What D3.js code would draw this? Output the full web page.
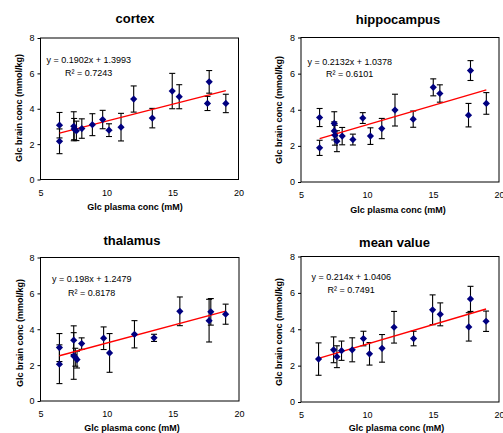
<!DOCTYPE html>
<html>
<head>
<meta charset="utf-8">
<script src="https://cdn.jsdelivr.net/npm/d3@7"></script>
<style>
  body { margin: 0; background: #fff; }
  svg { display: block; font-family: Arial, "Liberation Sans", sans-serif; }
</style>
</head>
<body>
<div id="vis"></div>
<script>
// Tick labels shared by all four panels
const xTicks = [5, 10, 15, 20];
const yTicks = [0, 2, 4, 6, 8];

// cortex
const cortexX   = [6.44, 6.44, 7.52, 7.55, 7.72, 8.13, 8.93, 9.71, 10.19, 11.1, 12.06, 13.47, 14.98, 15.51, 17.65, 17.78, 19.04];
const cortexY   = [3.07, 2.16, 3.01, 2.85, 2.75, 2.88, 3.1, 3.39, 2.79, 2.96, 4.55, 3.47, 5.0, 4.68, 4.3, 5.52, 4.3];
const cortexErr = [0.72, 0.7, 0.82, 0.6, 0.55, 0.55, 0.62, 0.52, 0.36, 0.78, 0.74, 0.55, 1.0, 0.68, 0.4, 0.64, 0.52];

// hippocampus
const hippoX   = [6.41, 6.41, 7.52, 7.52, 7.57, 7.72, 8.12, 8.93, 9.68, 10.26, 11.12, 12.12, 13.5, 15.02, 15.52, 17.69, 17.84, 19.04];
const hippoY   = [3.57, 1.89, 3.24, 2.83, 2.59, 2.26, 2.54, 2.35, 3.54, 2.54, 2.96, 3.98, 3.48, 5.24, 4.9, 3.7, 6.17, 4.35];
const hippoErr = [0.5, 0.42, 0.65, 0.5, 0.55, 0.58, 0.48, 0.3, 0.3, 0.46, 0.56, 0.88, 0.45, 0.47, 0.48, 0.65, 0.55, 0.6];

// thalamus
const thalX   = [6.43, 6.43, 7.51, 7.51, 7.63, 7.76, 8.11, 9.77, 10.22, 12.1, 13.58, 15.53, 17.74, 17.87, 18.99];
const thalY   = [2.98, 2.05, 3.39, 2.51, 2.44, 2.31, 3.2, 3.5, 2.68, 3.72, 3.52, 5.0, 4.48, 4.97, 4.84];
const thalErr = [0.78, 1.08, 0.8, 1.3, 0.5, 0.47, 0.32, 0.63, 1.08, 0.76, 0.2, 0.8, 1.19, 0.74, 0.56];

// mean value
const meanX   = [6.33, 7.47, 7.72, 8.07, 8.88, 9.73, 10.19, 11.14, 12.05, 13.53, 14.97, 15.55, 17.71, 17.84, 19.02];
const meanY   = [2.36, 2.87, 2.49, 2.82, 2.87, 3.49, 2.65, 2.95, 4.11, 3.49, 5.07, 4.82, 4.13, 5.67, 4.44];
const meanErr = [0.89, 0.71, 0.6, 0.53, 0.66, 0.4, 0.62, 0.76, 0.87, 0.4, 0.82, 0.63, 0.78, 0.69, 0.56];

// Excel trend line fits (slope, intercept, R²)
const titles     = ["cortex", "hippocampus", "thalamus", "mean value"];
const slopes     = [0.1902, 0.2132, 0.198, 0.214];
const intercepts = [1.3993, 1.0378, 1.2479, 1.0406];
const rSquared   = ["0.7243", "0.6101", "0.8178", "0.7491"];
const eqLabels   = ["y = 0.1902x + 1.3993", "y = 0.2132x + 1.0378", "y = 0.198x + 1.2479", "y = 0.214x + 1.0406"];

const xs   = [cortexX, hippoX, thalX, meanX];
const ys   = [cortexY, hippoY, thalY, meanY];
const errs = [cortexErr, hippoErr, thalErr, meanErr];

// plot frames (layout only)
const frames = [
  { x0: 40.5, x1: 238.5, y0: 38,    y1: 179.5, tx: 135,   ty: 18,    lx: 135,   ly: 207, yx: 18.5, yy: 108, ex: 46.5, ey: 60,  rx: 65,  ry: 73 },
  { x0: 301,  x1: 499,   y0: 37.5,  y1: 182,   tx: 398,   ty: 19.5,  lx: 398,   ly: 210, yx: 279,  yy: 110, ex: 307.5, ey: 62, rx: 326, ry: 74 },
  { x0: 40.5, x1: 239,   y0: 257.5, y1: 401,   tx: 132,   ty: 240,   lx: 132,   ly: 428, yx: 20,   yy: 333, ex: 52,  ey: 279, rx: 68,  ry: 293 },
  { x0: 301,  x1: 499,   y0: 256.5, y1: 402,   tx: 394.5, ty: 242.5, lx: 396.5, ly: 428, yx: 279,  yy: 332, ex: 311.5, ey: 277, rx: 327.5, ry: 290 }
];

const width = 503, height = 433;

const svg = d3.select("#vis")
  .append("svg")
  .attr("width", width)
  .attr("height", height);

svg.append("rect").attr("width", width).attr("height", height).attr("fill", "#fff");

frames.forEach((f, i) => {
  const pts = xs[i].map((x, j) => ({ x: x, y: ys[i][j], e: errs[i][j] }));

  const x = d3.scaleLinear().domain([5, 20]).range([f.x0, f.x1]);
  const y = d3.scaleLinear().domain([0, 8]).range([f.y1, f.y0]);

  const g = svg.append("g");

  // y axis
  g.append("g")
    .attr("transform", `translate(${f.x0},0)`)
    .call(d3.axisLeft(y).tickValues(yTicks).tickSize(3).tickPadding(3))
    .call(a => a.select(".domain").remove())
    .call(a => a.selectAll("text").attr("font-size", "9px").attr("fill", "#000").attr("font-family", "Arial, 'Liberation Sans', sans-serif"))
    .call(a => a.selectAll("line").attr("stroke", "#000"));

  // x axis
  g.append("g")
    .attr("transform", `translate(0,${f.y1})`)
    .call(d3.axisBottom(x).tickValues(xTicks).tickSize(0).tickPadding(10))
    .call(a => a.select(".domain").remove())
    .call(a => a.selectAll("text").attr("font-size", "9px").attr("fill", "#000").attr("font-family", "Arial, 'Liberation Sans', sans-serif"));

  // frame
  g.append("rect")
    .attr("x", f.x0).attr("y", f.y0)
    .attr("width", f.x1 - f.x0).attr("height", f.y1 - f.y0)
    .attr("fill", "none").attr("stroke", "#000").attr("stroke-width", 1);

  // error bars
  const eb = g.append("g").attr("stroke", "#000").attr("stroke-width", 1.1);
  pts.forEach(d => {
    eb.append("line").attr("x1", x(d.x)).attr("x2", x(d.x)).attr("y1", y(d.y - d.e)).attr("y2", y(d.y + d.e));
    eb.append("line").attr("x1", x(d.x) - 3).attr("x2", x(d.x) + 3).attr("y1", y(d.y + d.e)).attr("y2", y(d.y + d.e));
    eb.append("line").attr("x1", x(d.x) - 3).attr("x2", x(d.x) + 3).attr("y1", y(d.y - d.e)).attr("y2", y(d.y - d.e));
  });

  // trend line
  const xMin = d3.min(xs[i]), xMax = d3.max(xs[i]);
  g.append("line")
    .attr("x1", x(xMin)).attr("y1", y(slopes[i] * xMin + intercepts[i]))
    .attr("x2", x(xMax)).attr("y2", y(slopes[i] * xMax + intercepts[i]))
    .attr("stroke", "#ff0000").attr("stroke-width", 1.4);

  // markers
  g.append("g")
    .selectAll("path")
    .data(pts)
    .enter()
    .append("path")
    .attr("d", d3.symbol(d3.symbolSquare, 26))
    .attr("transform", d => `translate(${x(d.x)},${y(d.y)}) rotate(45)`)
    .attr("fill", "#000080");

  // title
  g.append("text")
    .attr("x", f.tx).attr("y", f.ty).attr("dy", "0.35em")
    .attr("text-anchor", "middle")
    .attr("font-size", "13px").attr("font-weight", "bold")
    .text(titles[i]);

  // axis titles
  g.append("text")
    .attr("x", f.lx).attr("y", f.ly).attr("dy", "0.35em")
    .attr("text-anchor", "middle")
    .attr("font-size", "9px").attr("font-weight", "bold")
    .text("Glc plasma conc (mM)");

  g.append("text")
    .attr("transform", `translate(${f.yx},${f.yy}) rotate(-90)`)
    .attr("dy", "0.35em")
    .attr("text-anchor", "middle")
    .attr("font-size", "9px").attr("font-weight", "bold")
    .text("Glc brain conc (mmol/kg)");

  // equation + R²
  g.append("text")
    .attr("x", f.ex).attr("y", f.ey).attr("dy", "0.35em")
    .attr("font-size", "9px")
    .text(eqLabels[i]);

  g.append("text")
    .attr("x", f.rx).attr("y", f.ry).attr("dy", "0.35em")
    .attr("font-size", "9px")
    .text("R² = " + rSquared[i]);
});
</script>
</body>
</html>
